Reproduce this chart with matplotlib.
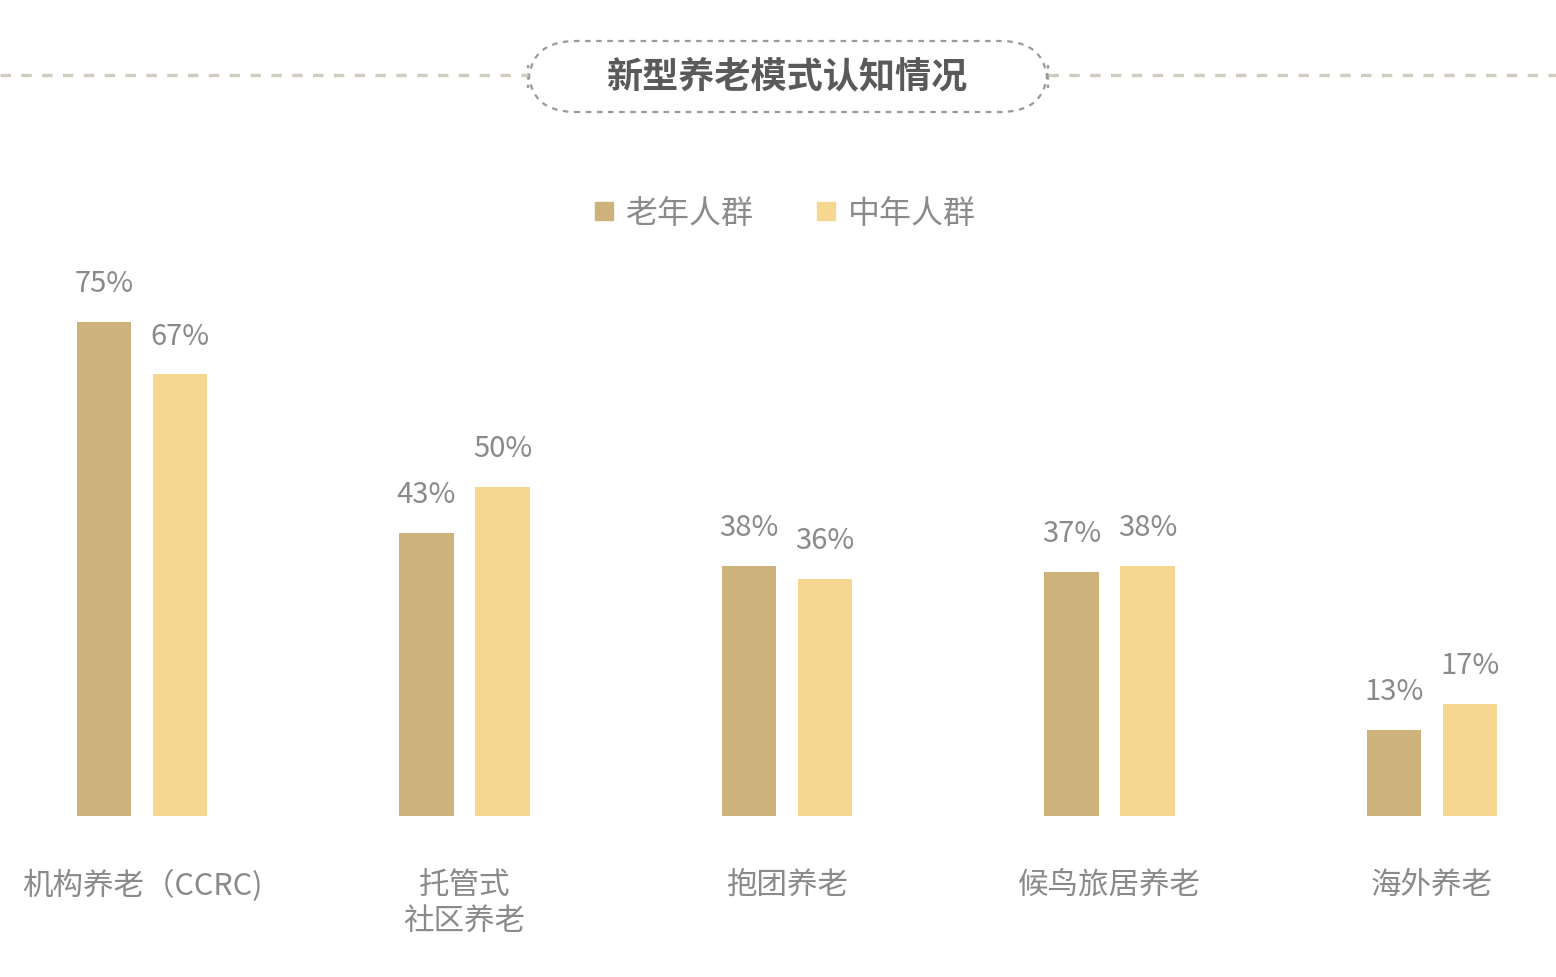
import matplotlib.pyplot as plt
from matplotlib.patches import FancyBboxPatch
import numpy as np

plt.rcParams['font.family'] = ['Noto Sans CJK SC', 'DejaVu Sans']

categories = ['机构养老（CCRC)', '托管式\n社区养老', '抱团养老', '候鸟旅居养老', '海外养老']
elderly = [75, 43, 38, 37, 13]
middle = [67, 50, 36, 38, 17]
series_names = ['老年人群', '中年人群']

dark = '#CDB37B'
light = '#F6D792'
text_gray = '#8a8a8a'

W, H = 1556, 978
fig = plt.figure(figsize=(W / 100, H / 100), dpi=100)

# axes spans full width; baseline at y=817px, top at 200px
ax = fig.add_axes([0, (H - 817) / H, 1, (817 - 200) / H])
px_per_group = 322.5
x0 = 142
ax.set_xlim(-x0 / px_per_group, (W - x0) / px_per_group)
ax.set_ylim(0, (817 - 200) / 6.59)
ax.axis('off')

x = np.arange(len(categories))
off = 0.118
wid = 0.17
ax.bar(x - off, elderly, wid, color=dark)
ax.bar(x + off, middle, wid, color=light)

for xi, v in zip(x, elderly):
    ax.annotate(f'{v}%', (xi - off, v), xytext=(0, 28), textcoords='offset points',
                ha='center', va='center', fontsize=21, color=text_gray)
for xi, v in zip(x, middle):
    ax.annotate(f'{v}%', (xi + off, v), xytext=(0, 28), textcoords='offset points',
                ha='center', va='center', fontsize=21, color=text_gray)

for xi, c in zip(x, categories):
    ax.annotate(c, (xi, 0), xytext=(0, -38), textcoords='offset points',
                ha='center', va='top', fontsize=22, color=text_gray, linespacing=1.19)

# legend
lx = [604, 826]
for px, name, col in zip(lx, series_names, [dark, light]):
    fig.patches.append(plt.Rectangle(((px - 9) / W, (H - 221) / H), 18 / W, 18 / H,
                                     transform=fig.transFigure, color=col))
    fig.text((px + 22) / W, (H - 214) / H, name, fontsize=23, color=text_gray,
             ha='left', va='center')

# title with dashed rounded box and dotted side lines
line_col = '#d2cdc3'
fig.add_artist(plt.Line2D([0, 528 / W], [(H - 76) / H] * 2, color=line_col, lw=2.5,
                          linestyle=(0, (3, 3))))
fig.add_artist(plt.Line2D([1048 / W, 1], [(H - 76) / H] * 2, color=line_col, lw=2.5,
                          linestyle=(0, (3, 3))))
box = FancyBboxPatch((528 / W, (H - 113) / H), (1048 - 528) / W, 71 / H,
                     boxstyle='round,pad=0,rounding_size=0.03', transform=fig.transFigure,
                     fill=False, edgecolor='#9a9a9a', lw=1.6, linestyle=(0, (2.5, 2.5)),
                     mutation_aspect=W / H)
fig.patches.append(box)
fig.text(787 / W, (H - 77) / H, '新型养老模式认知情况', fontsize=26, fontweight='bold',
         color='#5a5a5a', ha='center', va='center')

fig.savefig('out.png', dpi=100, facecolor='white')
